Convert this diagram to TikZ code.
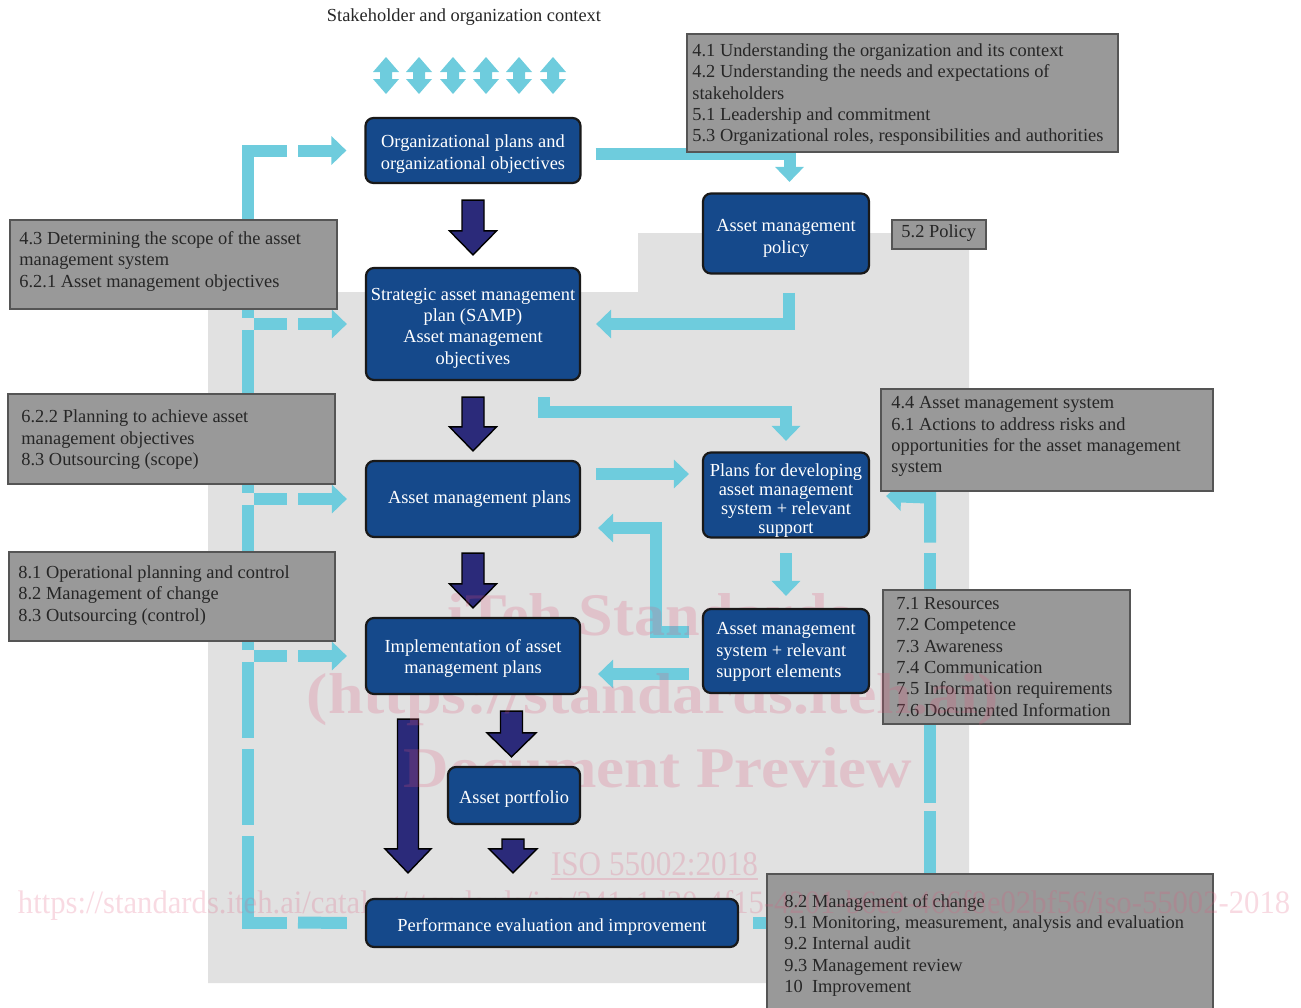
\documentclass[tikz,border=0pt]{standalone}
\usepackage{fontspec}
\usepackage{graphicx}
\setmainfont{Liberation Serif}
\usetikzlibrary{arrows.meta,calc}
\definecolor{boxblue}{RGB}{21,73,139}
\definecolor{cyanln}{RGB}{110,204,221}
\definecolor{navyarr}{RGB}{43,42,122}
\definecolor{grayfill}{RGB}{153,153,153}
\definecolor{grayedge}{RGB}{85,85,85}
\definecolor{graytext}{RGB}{38,38,38}
\definecolor{bgpanel}{RGB}{225,225,225}
\definecolor{wmpink}{RGB}{223,87,123}
\pgfdeclarelayer{panel}
\pgfdeclarelayer{links}
\pgfdeclarelayer{greys}
\pgfdeclarelayer{wmlayer}
\pgfsetlayers{panel,links,greys,wmlayer,main}
\newcommand{\blockarrow}[4]{%
  \draw[navyblock] let \p1=(#1), \p2=(#2) in
    (\x1-#3,\y1) -- (\x1+#3,\y1) -- (\x1+#3,\y2+12pt) -- (\x1+#4,\y2+12pt)
    -- (\x1,\y2) -- (\x1-#4,\y2+12pt) -- (\x1-#3,\y2+12pt) -- cycle;}
\begin{document}
\begin{tikzpicture}[x=0.5pt,y=-0.5pt,
  font=\fontsize{9.2}{10.65}\selectfont,
  bbox/.style={draw=black!90, fill=boxblue, line width=1.1pt, rounded corners=4pt, inner sep=0pt},
  btext/.style={text=white, align=center, inner sep=0pt},
  gbox/.style={draw=grayedge, fill=grayfill, line width=0.8pt, anchor=north west, inner sep=0pt},
  gtext/.style={text=graytext, align=left, inner sep=0pt, anchor=west},
  cyanline/.style={draw=cyanln, line width=6pt, line join=miter},
  cyanarrow/.style={cyanline, -{Triangle[width=14pt,length=7.5pt]}},
  navyblock/.style={fill=navyarr, draw=black, line width=0.7pt, line join=miter},
  wmtext/.style={text=wmpink, text opacity=0.22, inner sep=0pt, anchor=base},
  titletext/.style={text=black!85, inner sep=0pt}]
\useasboundingbox (0,0) rectangle (1301,1007);

% ---------- blue process boxes ----------
\node[bbox, minimum width=107.5pt, minimum height=32.5pt] (org) at (473,150.5) {};
\node[btext] (orgT) at ($(org.center)+(0,3.5)$) {Organizational plans and\\organizational objectives};
\node[bbox, minimum width=83pt, minimum height=40pt] (pol) at (786,233.5) {};
\node[btext] (polT) at ($(pol.center)+(0,5)$) {Asset management\\policy};
\node[bbox, minimum width=107pt, minimum height=56pt] (samp) at (473,324) {};
\node[btext] (sampT) at ($(samp.center)+(0,4)$)
  {Strategic asset management\\plan (SAMP)\\Asset management\\objectives};
\node[bbox, minimum width=107pt, minimum height=38pt] (amp) at (473,499) {};
\node[btext] (ampT) at ($(amp.center)+(6.5,0)$) {Asset management plans};
\node[bbox, minimum width=83pt, minimum height=42.5pt] (pdev) at (786,495) {};
\node[btext, font=\fontsize{9.2}{9.5}\selectfont] (pdevT) at ($(pdev.center)+(0,5)$)
  {Plans for developing\\asset management\\system + relevant\\support};
\node[bbox, minimum width=83pt, minimum height=42pt] (ams) at (786,651) {};
\node[btext, align=left, font=\fontsize{9.2}{10.75}\selectfont] (amsT) at ($(ams.center)+(0,1)$)
  {Asset management\\system + relevant\\support elements};
\node[bbox, minimum width=107pt, minimum height=38pt] (impl) at (473,656) {};
\node[btext] (implT) at ($(impl.center)+(0,2.5)$) {Implementation of asset\\management plans};
\node[bbox, minimum width=66pt, minimum height=28.5pt] (port) at (514,795.5) {};
\node[btext] (portT) at ($(port.center)+(0,3)$) {Asset portfolio};
\node[bbox, minimum width=186pt, minimum height=24pt] (perf) at (552,923) {};
\node[btext] (perfT) at ($(perf.center)+(0,4)$) {Performance evaluation and improvement};

% ---------- title ----------
\node[titletext] (title) at (464,17) {Stakeholder and organization context};

% ---------- grey clause boxes ----------
\begin{pgfonlayer}{greys}
\node[gbox, minimum width=215.5pt, minimum height=59pt] (gA) at (686,33) {};
\node[gtext] (tA) at ($(gA.west)+(6,2)$)
  {4.1 Understanding the organization and its context\\4.2 Understanding the needs and expectations of\\stakeholders\\5.1 Leadership and commitment\\5.3 Organizational roles, responsibilities and authorities};
\node[gbox, minimum width=47pt, minimum height=14.5pt] (gB) at (891,219) {};
\node[gtext, anchor=center] (tB) at ($(gB.center)+(0,-1)$) {5.2 Policy};
\node[gbox, minimum width=163.5pt, minimum height=44.5pt] (gC) at (9,219) {};
\node[gtext] (tC) at ($(gC.west)+(10,-3)$)
  {4.3 Determining the scope of the asset\\management system\\6.2.1 Asset management objectives};
\node[gbox, minimum width=163.5pt, minimum height=45pt] (gD) at (7,393) {};
\node[gtext] (tD) at ($(gD.west)+(14,1)$)
  {6.2.2 Planning to achieve asset\\management objectives\\8.3 Outsourcing (scope)};
\node[gbox, minimum width=166pt, minimum height=51pt] (gE) at (880,388) {};
\node[gtext] (tE) at ($(gE.west)+(11,-3)$)
  {4.4 Asset management system\\6.1 Actions to address risks and\\opportunities for the asset management\\system};
\node[gbox, minimum width=163pt, minimum height=44.5pt] (gF) at (8,551) {};
\node[gtext] (tF) at ($(gF.west)+(10,-1)$)
  {8.1 Operational planning and control\\8.2 Management of change\\8.3 Outsourcing (control)};
\node[gbox, minimum width=123.5pt, minimum height=67pt] (gG) at (882,589) {};
\node[gtext] (tG) at ($(gG.west)+(14,0)$)
  {7.1 Resources\\7.2 Competence\\7.3 Awareness\\7.4 Communication\\7.5 Information requirements\\7.6 Documented Information};
\node[gbox, minimum width=223pt, minimum height=70pt] (gH) at (766,873) {};
\node[gtext] (tH) at ($(gH.west)+(18,1.5)$)
  {8.2 Management of change\\9.1 Monitoring, measurement, analysis and evaluation\\9.2 Internal audit\\9.3 Management review\\10\ \ Improvement};
\end{pgfonlayer}

% ---------- background panel ----------
\begin{pgfonlayer}{panel}
\fill[bgpanel] (208,292) -- (638,292) -- (638,233) -- (969,233) -- (969,983) -- (208,983) -- cycle;
\end{pgfonlayer}

% ---------- cyan connectors ----------
\begin{pgfonlayer}{links}
% stakeholder double arrows
\foreach \c in {386,419,453,486,519,553}{
  \fill[cyanln] (\c,57) -- ++(13,15) -- ++(-7,0) -- ++(0,7) -- ++(7,0) -- (\c,94)
    -- ++(-13,-15) -- ++(7,0) -- ++(0,-7) -- ++(-7,0) -- cycle;}
% main solid connectors
\draw[cyanarrow] ($(org.east)+(14,3)$) -| ($(pol.north)+(3.5,-10.5)$);
\draw[cyanarrow] ($(pol.south)+(3,18)$) |- ($(samp.east)+(15,0)$);
\draw[cyanarrow] ($(samp.south east)+(-37,16)$) |- ($(pdev.north)+(0,-39)$) -- ($(pdev.north)+(0,-10.5)$);
\draw[cyanarrow] ($(amp.east)+(15,-25)$) -- ($(pdev.west)+(-13,-21)$);
\draw[cyanarrow] ($(pdev.south)+(0,14.5)$) -- ($(ams.north)+(0,-12)$);
\draw[cyanarrow] ($(ams.west)+(-13,-19)$) -| ($(amp.east)+(75,29)$) -- ($(amp.east)+(17,29)$);
\draw[cyanarrow] ($(ams.west)+(-13,23)$) -- ($(impl.east)+(17,18)$);
% left dashed feedback bus
\draw[cyanline] (287,150.5) -- (247.5,150.5) -- (247.5,318);
\draw[cyanline] (247.5,330) -- (247.5,493);
\draw[cyanline] (247.5,505) -- (247.5,650);
\draw[cyanline] (247.5,662) -- (247.5,738);
\draw[cyanline] (247.5,749) -- (247.5,825);
\draw[cyanline] (247.5,836) -- (247.5,922.5) -- (287,922.5);
\draw[cyanline] (253.5,324) -- (287,324);
\draw[cyanline] (253.5,499) -- (287,499);
\draw[cyanline] (253.5,656) -- (287,656);
\draw[cyanarrow] (298,150.5) -- ($(org.west)+(-18,0)$);
\draw[cyanarrow] (298,324) -- ($(samp.west)+(-18,0)$);
\draw[cyanarrow] (298,499) -- ($(amp.west)+(-18,0)$);
\draw[cyanarrow] (298,656) -- ($(impl.west)+(-18,0)$);
\draw[cyanline] (298,922.5) -- ($(perf.west)+(-18,0)$);
% right dashed feedback line
\draw[cyanarrow] ($(gE.south west)+(50,51)$) -- ($(gE.south west)+(50,6)$) -- ($(pdev.east)+(16,1)$);
\draw[cyanline] ($(gG.north west)+(48,-36)$) -- ($(gG.south west)+(48,78)$);
\draw[cyanline] ($(gH.north west)+(164,-62)$) -- ($(gH.north west)+(164,2)$);
\draw[cyanline] ($(perf.east)+(14,-0.5)$) -- ($(perf.east)+(30,-0.5)$);
% dark block arrows
\blockarrow{$(org.south)+(0,16)$}{$(samp.north)+(0,-12)$}{5.5pt}{11.75pt}
\blockarrow{$(samp.south)+(0,16)$}{$(amp.north)+(0,-9)$}{5.5pt}{11.75pt}
\blockarrow{$(amp.south)+(0,15)$}{$(impl.north)+(0,-9)$}{5.5pt}{11.75pt}
\blockarrow{$(impl.south)+(38.5,16)$}{$(port.north)+(-2.5,-9)$}{5.5pt}{12.25pt}
\blockarrow{$(impl.south)+(-65,24)$}{$(perf.north west)+(42,-25)$}{5.25pt}{11.5pt}
\blockarrow{$(port.south)+(-1,14)$}{$(perf.north)+(-39,-25)$}{5.5pt}{12pt}
\end{pgfonlayer}

% ---------- watermark ----------
\begin{pgfonlayer}{wmlayer}
\node[wmtext] (wm1) at (650,635) {\resizebox{202pt}{21pt}{\bfseries iTeh Standards}};
\node[wmtext] (wm2) at (653,713) {\resizebox{346pt}{20pt}{\bfseries (https://standards.iteh.ai)}};
\node[wmtext] (wm3) at (658,787) {\resizebox{254pt}{20pt}{\bfseries Document Preview}};
\node[wmtext] (wm4) at (654.5,875) {\resizebox{103.5pt}{11.5pt}{ISO 55002:2018}};
\draw[wmpink, opacity=0.22, line width=0.8pt] ($(wm4.base west)+(0,4)$) -- ($(wm4.base east)+(0,4)$);
\node[wmtext] (wm5) at (654,913) {\resizebox{636pt}{11.5pt}{https://standards.iteh.ai/catalog/standards/iso/241e1d20-4f15-4201-b6e9-466f8e02bf56/iso-55002-2018}};
\end{pgfonlayer}
\end{tikzpicture}
\end{document}
